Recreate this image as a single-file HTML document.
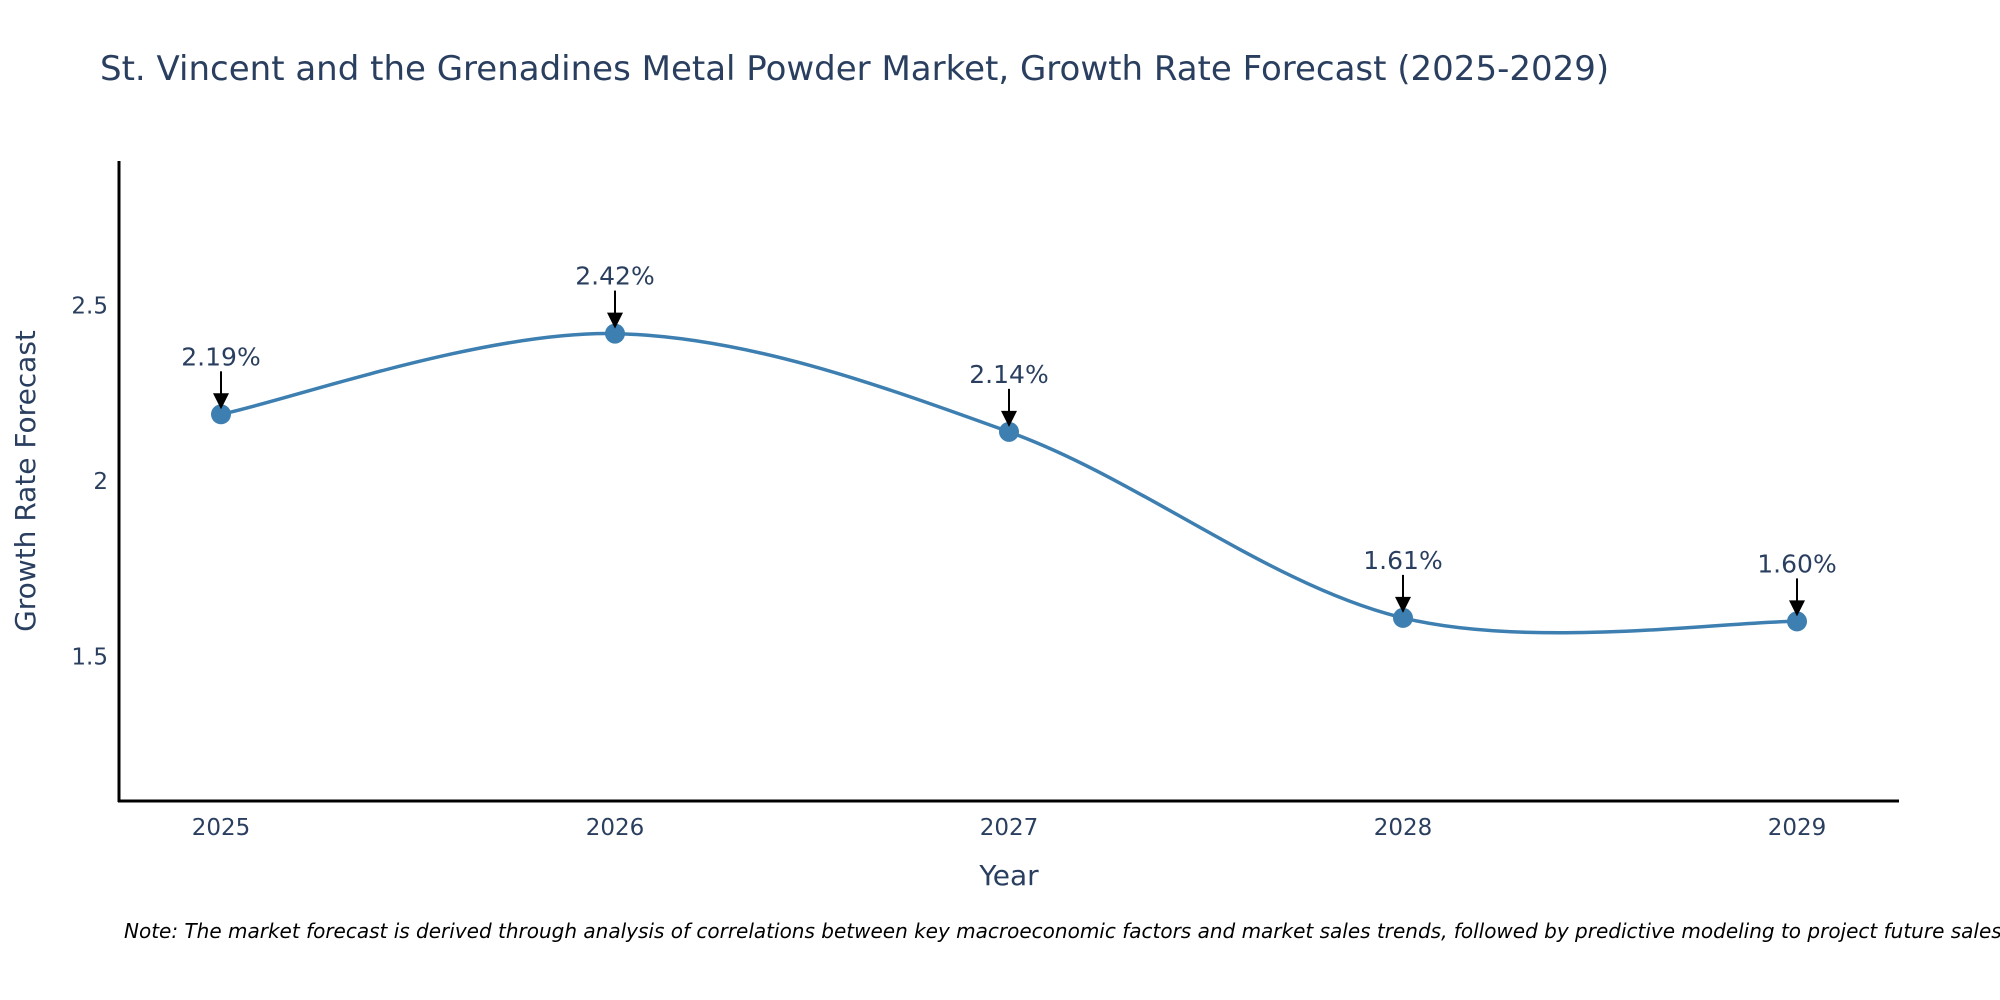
<!DOCTYPE html>
<html><head><meta charset="utf-8"><style>
body{margin:0;background:#fff}
svg{display:block;font-family:"DejaVu Sans","Liberation Sans",sans-serif}
</style></head><body>
<svg id="chart" width="2000" height="1000" viewBox="0 0 2000 1000">
<text x="100" y="80" font-size="34" fill="#2a3f5f">St. Vincent and the Grenadines Metal Powder Market, Growth Rate Forecast (2025-2029)</text>
<g id="yticks"></g>
<g id="xticks"></g>
<line x1="119" y1="161" x2="119" y2="802" stroke="#000" stroke-width="3"/>
<line x1="118" y1="801" x2="1899" y2="801" stroke="#000" stroke-width="3"/>
<text x="1009" y="885" font-size="28" fill="#2a3f5f" text-anchor="middle">Year</text>
<text transform="translate(35,481) rotate(-90)" font-size="28" fill="#2a3f5f" text-anchor="middle">Growth Rate Forecast</text>
<path id="line" fill="none" stroke="#3d7fb0" stroke-width="3.5"/>
<g id="marks"></g>
<text x="124" y="938" font-size="20" font-style="italic" fill="#000">Note: The market forecast is derived through analysis of correlations between key macroeconomic factors and market sales trends, followed by predictive modeling to project future sales.</text>
</svg>
<script>
const years = ["2025","2026","2027","2028","2029"];
const values = [2.19, 2.42, 2.14, 1.61, 1.60];
const yTicks = [1.5, 2, 2.5];
const NS = "http://www.w3.org/2000/svg";
const X = i => 221 + i * 394;
const Y = v => 481 - (v - 2) * 351;
function mk(tag, attrs, parent){const e=document.createElementNS(NS,tag);for(const k in attrs)e.setAttribute(k,attrs[k]);parent.appendChild(e);return e;}
const yt=document.getElementById('yticks');
yTicks.forEach(t=>{const e=mk('text',{x:108,y:Y(t)+8,'font-size':23,fill:'#2a3f5f','text-anchor':'end'},yt);e.textContent=String(t);

});
const xt=document.getElementById('xticks');
years.forEach((y,i)=>{const e=mk('text',{x:X(i),y:835,'font-size':23,fill:'#2a3f5f','text-anchor':'middle'},xt);e.textContent=y;

});
const pts=values.map((v,i)=>[X(i),Y(v)]);
let d=`M${pts[0][0]},${pts[0][1]}`;const t=1/6;
for(let i=0;i<pts.length-1;i++){const p0=pts[i-1]||pts[i],p1=pts[i],p2=pts[i+1],p3=pts[i+2]||p2;
d+=` C${p1[0]+(p2[0]-p0[0])*t},${p1[1]+(p2[1]-p0[1])*t} ${p2[0]-(p3[0]-p1[0])*t},${p2[1]-(p3[1]-p1[1])*t} ${p2[0]},${p2[1]}`;}
document.getElementById('line').setAttribute('d',d);
const g=document.getElementById('marks');
values.forEach((v,i)=>{const x=X(i),y=Y(v);
const c=mk('circle',{cx:x,cy:y,r:10,fill:'#3d7fb0'},g);


const l=mk('line',{x1:x,y1:y-43,x2:x,y2:y-18,stroke:'#000','stroke-width':2},g);


const h=mk('path',{d:`M${x-8},${y-21} L${x+8},${y-21} L${x},${y-5} Z`,fill:'#000'},g);


const tx=mk('text',{x:x,y:y-49,'font-size':25,fill:'#2a3f5f','text-anchor':'middle'},g);tx.textContent=v.toFixed(2)+'%';

});
</script>
</body></html>
